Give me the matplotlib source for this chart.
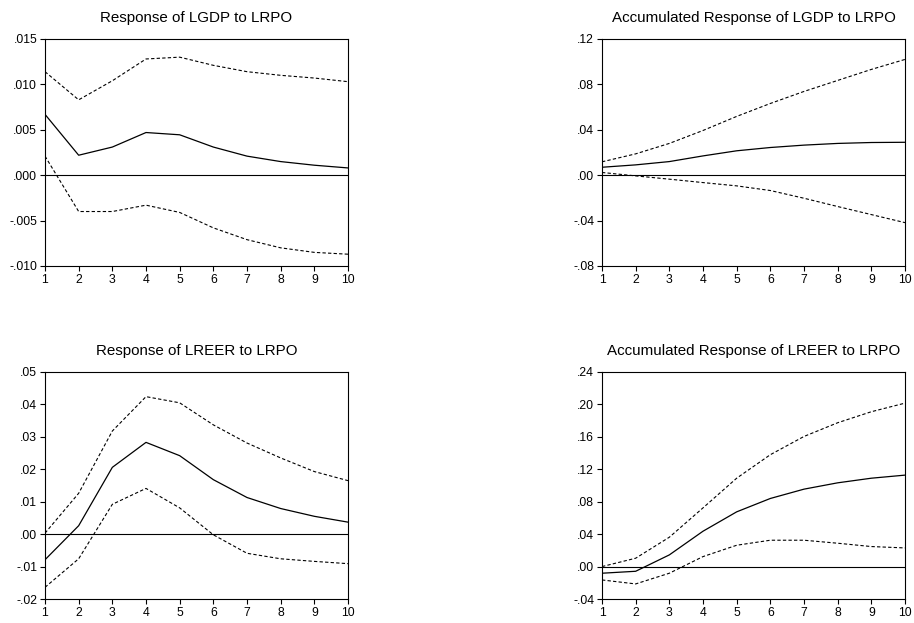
import matplotlib
matplotlib.use("Agg")
import matplotlib.pyplot as plt
from matplotlib.ticker import FuncFormatter

plt.rcParams['font.family'] = ['Liberation Sans', 'DejaVu Sans']

periods = list(range(1, 11))

# Response of LGDP to LRPO
lgdp_resp = [0.0067, 0.0022, 0.0031, 0.0047, 0.00445, 0.0031, 0.0021, 0.0015, 0.0011, 0.0008]
lgdp_resp_up = [0.0114, 0.0083, 0.0104, 0.0128, 0.0130, 0.0121, 0.0114, 0.0110, 0.0107, 0.0103]
lgdp_resp_lo = [0.0021, -0.0040, -0.0040, -0.0033, -0.0041, -0.0058, -0.0071, -0.0080, -0.0085, -0.0087]

# Accumulated Response of LGDP to LRPO
lgdp_acc = [0.0070, 0.0091, 0.0120, 0.0170, 0.0215, 0.0244, 0.0265, 0.0280, 0.0288, 0.0290]
lgdp_acc_up = [0.0118, 0.0188, 0.0280, 0.0394, 0.0518, 0.0632, 0.0738, 0.0835, 0.0932, 0.1020]
lgdp_acc_lo = [0.0024, -0.0006, -0.0035, -0.0065, -0.0094, -0.0135, -0.0203, -0.0276, -0.0347, -0.0418]

# Response of LREER to LRPO
lreer_resp = [-0.0079, 0.0026, 0.0206, 0.0283, 0.0242, 0.0168, 0.0113, 0.0079, 0.0055, 0.0037]
lreer_resp_up = [0.0003, 0.0126, 0.0318, 0.0424, 0.0405, 0.0337, 0.0281, 0.0235, 0.0193, 0.0165]
lreer_resp_lo = [-0.0164, -0.0076, 0.0092, 0.0141, 0.0081, -0.0002, -0.0059, -0.0076, -0.0084, -0.0091]

# Accumulated Response of LREER to LRPO
lreer_acc = [-0.0082, -0.0058, 0.0144, 0.0436, 0.0675, 0.0840, 0.0955, 0.1033, 0.1090, 0.1128]
lreer_acc_up = [0.0000, 0.0103, 0.0362, 0.0724, 0.1090, 0.1380, 0.1605, 0.1774, 0.1910, 0.2016]
lreer_acc_lo = [-0.0165, -0.0214, -0.0082, 0.0123, 0.0263, 0.0325, 0.0325, 0.0288, 0.0247, 0.0230]

titles = ["Response of LGDP to LRPO", "Accumulated Response of LGDP to LRPO",
          "Response of LREER to LRPO", "Accumulated Response of LREER to LRPO"]

panels = [
    (lgdp_resp, lgdp_resp_up, lgdp_resp_lo, [-0.010, -0.005, 0.000, 0.005, 0.010, 0.015], 3),
    (lgdp_acc, lgdp_acc_up, lgdp_acc_lo, [-0.08, -0.04, 0.00, 0.04, 0.08, 0.12], 2),
    (lreer_resp, lreer_resp_up, lreer_resp_lo, [-0.02, -0.01, 0.00, 0.01, 0.02, 0.03, 0.04, 0.05], 2),
    (lreer_acc, lreer_acc_up, lreer_acc_lo, [-0.04, 0.00, 0.04, 0.08, 0.12, 0.16, 0.20, 0.24], 2),
]

W, H = 914, 623
fig = plt.figure(figsize=(W / 100, H / 100), dpi=100)

# axes boxes in pixel coords: (left, top, right, bottom)
boxes = [(45, 39, 348, 266), (602, 39, 905, 266), (45, 372, 348, 599), (602, 372, 905, 599)]


def make_fmt(dec):
    def f(v, pos):
        s = f"{v:.{dec}f}"
        if s.startswith("-0"):
            s = "-" + s[2:]
        elif s.startswith("0"):
            s = s[1:]
        return s
    return FuncFormatter(f)


for (mid, up, lo, yt, dec), title, (l, t, r, b) in zip(panels, titles, boxes):
    ax = fig.add_axes([l / W, 1 - b / H, (r - l) / W, (b - t) / H])
    ax.axhline(0, color='black', lw=0.8)
    ax.plot(periods, mid, color='black', lw=0.9)
    ax.plot(periods, up, color='black', lw=0.8, ls=(0, (3, 2)))
    ax.plot(periods, lo, color='black', lw=0.8, ls=(0, (3, 2)))
    ax.set_xlim(1, 10)
    ax.set_ylim(yt[0], yt[-1])
    ax.set_xticks(periods)
    ax.set_yticks(yt)
    ax.yaxis.set_major_formatter(make_fmt(dec))
    ax.tick_params(direction='out', length=3.6, width=0.8, labelsize=8.8, pad=2, colors='black')
    for sp in ax.spines.values():
        sp.set_linewidth(0.8)
    ax.set_title(title, fontsize=10.9, pad=12.5)

fig.savefig("out.png", dpi=100)
